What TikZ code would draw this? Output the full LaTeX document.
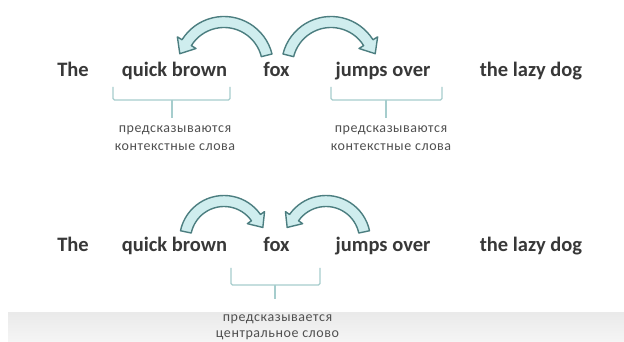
\documentclass[tikz,border=0pt]{standalone}
\usepackage{fontspec}
\setmainfont{Carlito}
\usetikzlibrary{calc}
\definecolor{wordc}{HTML}{383838}
\definecolor{lblc}{HTML}{505050}
\definecolor{arrfill}{HTML}{CFEDEE}
\definecolor{arrline}{HTML}{4C7E80}
\definecolor{brk}{HTML}{A6CDCD}
\definecolor{bandtop}{HTML}{EAEAEA}
\definecolor{bandbot}{HTML}{F5F5F5}
\newcommand\bandarrow[8]{% cx, cy, R, a1, a2, halfw, headhalf, headlen
  \begin{scope}[shift={(#1,#2)}]
   \pgfmathsetmacro\ro{#3+#6}
   \pgfmathsetmacro\ri{#3-#6}
   \pgfmathsetmacro\ho{#3+#7}
   \pgfmathsetmacro\hi{#3-#7}
   \pgfmathsetmacro\td{#5>#4 ? #5+90 : #5-90}
   \draw[arrowband] (#4:\ro pt) arc[start angle=#4,end angle=#5,radius=\ro pt]
     -- (#5:\ho pt) -- ($(#5:#3pt)+(\td:#8pt)$) -- (#5:\hi pt)
     -- (#5:\ri pt) arc[start angle=#5,end angle=#4,radius=\ri pt] -- cycle;
  \end{scope}}
\begin{document}
\begin{tikzpicture}[x=1pt,y=1pt,
  arrowband/.style={fill=arrfill, draw=arrline, line width=1.4pt, line join=round},
  word/.style={anchor=base, inner sep=0pt, text=wordc, font=\fontsize{20.5}{24}\selectfont\bfseries},
  lbl/.style={anchor=base, inner sep=0pt, text=lblc, font=\fontsize{14}{16}\selectfont\addfontfeature{LetterSpace=4}},
  bracket/.style={draw=brk, line width=1.4pt, rounded corners=1.5pt}]
\useasboundingbox (0,0) rectangle (624,342);
\fill[white] (0,0) rectangle (624,342);
% bottom band
\shade[top color=bandtop, bottom color=bandbot] (8,0) rectangle (624,29);

% row 1
\node[word] (t1) at (73,265) {The};
\node[word] (q1) at (174.5,265) {quick brown};
\node[word] (f1) at (276.5,265) {fox};
\node[word] (j1) at (383,265) {jumps over};
\node[word] (d1) at (531,265) {the lazy dog};

\bandarrow{224}{276}{44}{14}{148}{5.5}{11}{13}
\bandarrow{331}{276}{44}{166}{32}{5.5}{11}{13}

\draw[bracket] (113,255) -- (113,242) -- (230,242) -- (230,255);
\draw[bracket] (172,242) -- (172,224);
\draw[bracket] (331,255) -- (331,242) -- (442,242) -- (442,255);
\draw[bracket] (386,242) -- (386,224);

\node[lbl] (la1) at (175,209.5) {предсказываются};
\node[lbl] (la2) at (175,191.5) {контекстные слова};
\node[lbl] (lb1) at (391,209.5) {предсказываются};
\node[lbl] (lb2) at (391,191.5) {контекстные слова};

% row 2
\node[word] (t2) at (73,90) {The};
\node[word] (q2) at (174.5,90) {quick brown};
\node[word] (f2) at (276.5,90) {fox};
\node[word] (j2) at (383,90) {jumps over};
\node[word] (d2) at (531,90) {the lazy dog};

\bandarrow{224}{102}{39}{168}{35}{5.5}{10.5}{12}
\bandarrow{326}{102}{39}{12}{145}{5.5}{10.5}{12}

\draw[bracket] (231,74) -- (231,57) -- (320,57) -- (320,74);
\draw[bracket] (275,57) -- (275,43);

\node[lbl] (lc1) at (277.5,20.5) {предсказывается};
\node[lbl] (lc2) at (277.5,4.5) {центральное слово};
\end{tikzpicture}
\end{document}
